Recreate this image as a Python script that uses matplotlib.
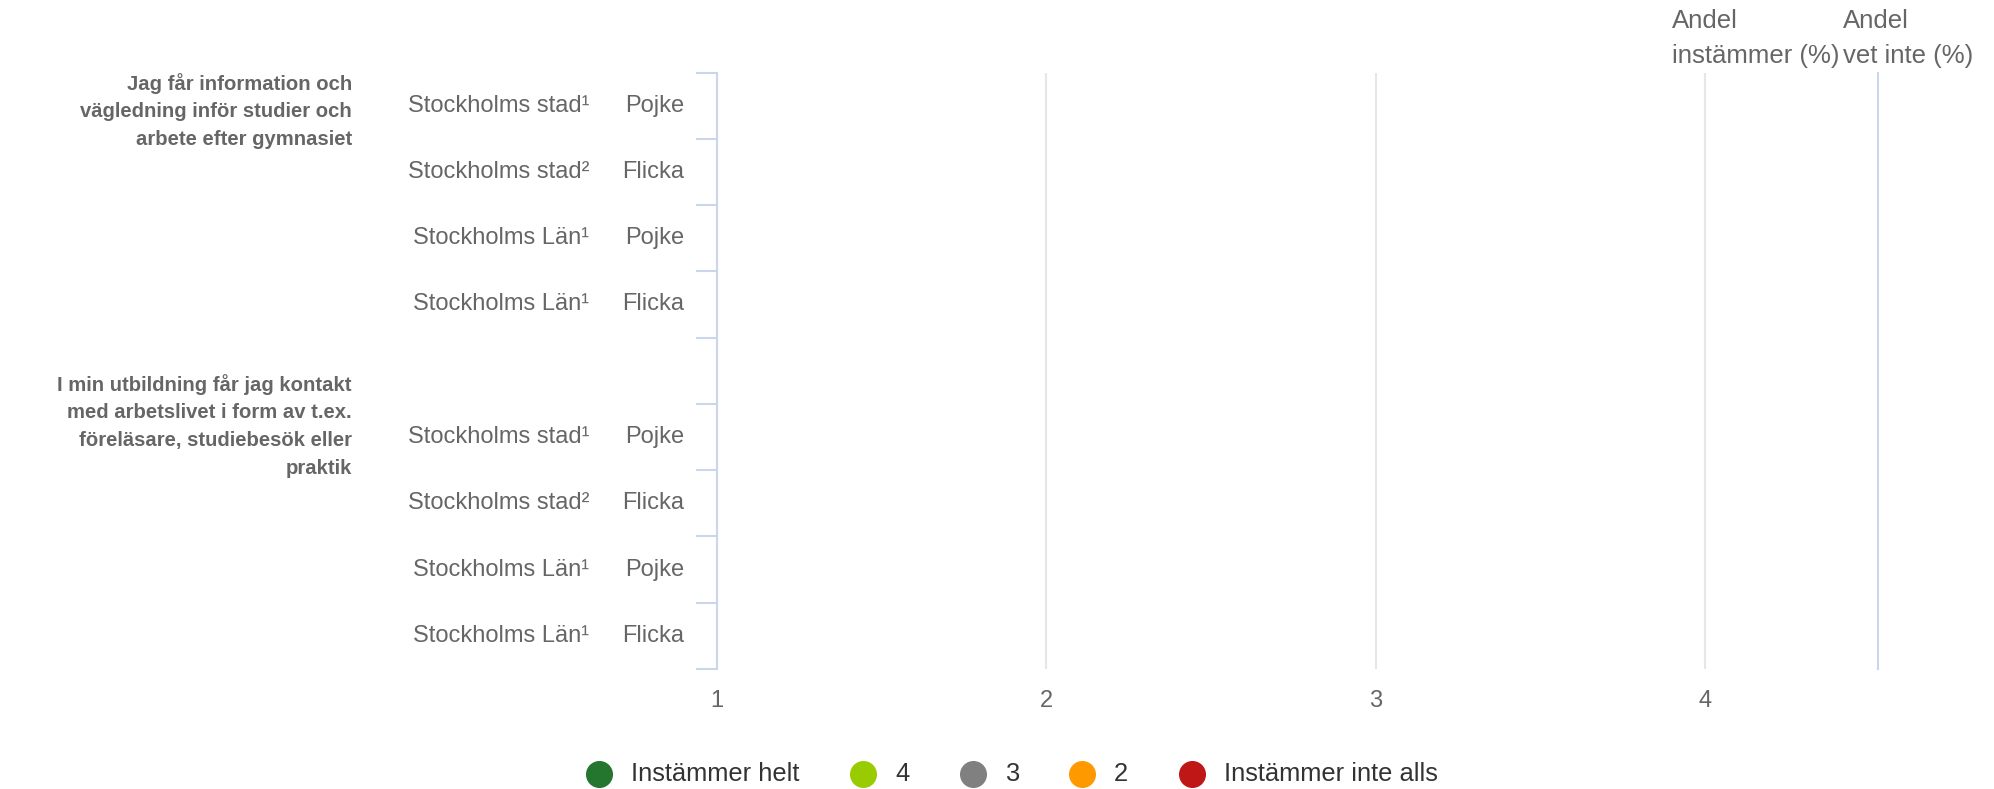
import matplotlib
matplotlib.use("Agg")
import matplotlib.pyplot as plt
import matplotlib.transforms as mtransforms

plt.rcParams['font.family'] = ['Liberation Sans', 'DejaVu Sans']

# chart content
questions = [
    "Jag får information och\nvägledning inför studier och\narbete efter gymnasiet",
    "I min utbildning får jag kontakt\nmed arbetslivet i form av t.ex.\nföreläsare, studiebesök eller\npraktik",
]
regions = ["Stockholms stad¹", "Stockholms stad²", "Stockholms Län¹", "Stockholms Län¹"]
genders = ["Pojke", "Flicka", "Pojke", "Flicka"]
x_ticks = [1, 2, 3, 4]
col_headers = ["Andel\ninstämmer (%)", "Andel\nvet inte (%)"]
legend_labels = ["Instämmer helt", "4", "3", "2", "Instämmer inte alls"]
legend_colors = ["#24752e", "#99cc00", "#808080", "#ff9900", "#bf1616"]

# rows: 4 for question 1, one spacer, 4 for question 2
row_pos = [0, 1, 2, 3, 5, 6, 7, 8]
n_rows = 9

grey = "#666666"
axis_blue = "#ccd6eb"

fig = plt.figure(figsize=(19.94, 7.89), dpi=100)
ax = fig.add_axes([717 / 1994, 1 - 669 / 789, (1878 - 717) / 1994, (669 - 72.5) / 789])

ax.set_xlim(1, 4.526)
ax.set_ylim(n_rows - 0.5, -0.5)

# empty series, only for the legend
for lab, col in zip(legend_labels, legend_colors):
    ax.scatter([], [], s=340, color=col, label=lab)

ax.set_xticks(x_ticks)
ax.set_xticklabels([str(t) for t in x_ticks])
ax.tick_params(axis='x', length=0, pad=15, labelsize=17, labelcolor=grey)
ax.grid(axis='x', color="#e6e6e6", linewidth=1.5)
ax.set_axisbelow(True)

ax.set_yticks([])
ax.set_yticks([i - 0.5 for i in range(n_rows + 1)], minor=True)
ax.tick_params(axis='y', which='minor', length=15, width=1.5, color=axis_blue)
ax.tick_params(axis='y', which='major', left=False, labelleft=False)

for side in ['top', 'bottom']:
    ax.spines[side].set_visible(False)
for side in ['left', 'right']:
    ax.spines[side].set_color(axis_blue)
    ax.spines[side].set_linewidth(1.5)

trans = mtransforms.blended_transform_factory(ax.transAxes, ax.transData)
for k, y in enumerate(row_pos):
    ax.text(-0.0284, y, genders[k % 4], transform=trans, ha='right', va='center',
            fontsize=17, color=grey)
    ax.text(-0.110, y, regions[k % 4], transform=trans, ha='right', va='center',
            fontsize=17, color=grey)

ax.text(-0.3144, 0.08, questions[0], transform=trans, ha='right', va='center',
        fontsize=14.6, fontweight='bold', color=grey, linespacing=1.58)
ax.text(-0.3144, 4.83, questions[1], transform=trans, ha='right', va='center',
        fontsize=14.6, fontweight='bold', color=grey, linespacing=1.58)

fig.text(1672 / 1994, 1 - 38.5 / 789, col_headers[0], ha='left', va='center',
         fontsize=18.5, color=grey, linespacing=1.62)
fig.text(1843 / 1994, 1 - 38.5 / 789, col_headers[1], ha='left', va='center',
         fontsize=18.5, color=grey, linespacing=1.62)

fig.legend(loc='center', bbox_to_anchor=(1012 / 1994, 1 - 774 / 789), ncol=5,
           frameon=False, fontsize=18.4, handlelength=1.0, handletextpad=0.75,
           columnspacing=1.98, labelcolor="#333333", scatterpoints=1)

fig.savefig("out.png", dpi=100)
